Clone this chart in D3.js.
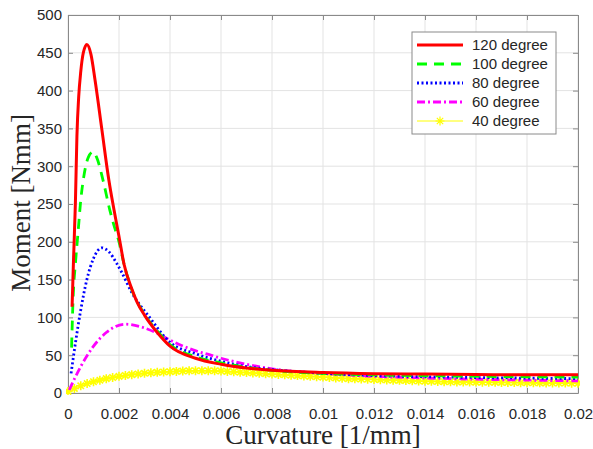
<!DOCTYPE html>
<html>
<head>
<meta charset="utf-8">
<script src="https://cdn.jsdelivr.net/npm/d3@7"></script>
<style>
  body { margin: 0; background: #fff; }
  svg { display: block; }
  .tick text { font-family: "Liberation Sans", Arial, sans-serif; font-size: 15px; fill: #262626; }
</style>
</head>
<body>
<div id="chart"></div>
<script>
// values
const seriesNames = ["120 degree", "100 degree", "80 degree", "60 degree", "40 degree"];

const red120X = [0.00016, 0.00022, 0.00029, 0.00035, 0.00042, 0.0005, 0.0006, 0.00074, 0.0009, 0.00106, 0.00133, 0.0016, 0.0018, 0.002, 0.0022, 0.0025, 0.0027, 0.003, 0.0035, 0.004, 0.005, 0.006, 0.007, 0.008, 0.01, 0.012, 0.014, 0.016, 0.018, 0.02];
const red120Y = [114, 180, 251, 340, 392, 425, 450, 461, 448, 414, 348, 282, 243, 207, 170, 138, 121, 103, 80, 62, 46, 38, 33, 30, 27, 25.5, 25, 24.5, 24, 24];

const green100X = [0.00014, 0.0002, 0.0003, 0.0004, 0.0005, 0.0006, 0.0008, 0.00098, 0.00112, 0.00137, 0.00164, 0.0018, 0.002, 0.0022, 0.0025, 0.003, 0.0035, 0.004, 0.005, 0.006, 0.007, 0.008, 0.01, 0.012, 0.015, 0.02];
const green100Y = [60, 125, 175, 215, 255, 282, 312, 319, 312, 282, 242, 222, 200, 170, 137, 104, 82, 64, 48, 40, 34, 30, 26, 24, 22.5, 21];

const blue80X = [0.00012, 0.0002, 0.0003, 0.00048, 0.00074, 0.001, 0.00133, 0.0016, 0.0019, 0.0021, 0.0025, 0.0032, 0.004, 0.005, 0.006, 0.007, 0.008, 0.01, 0.012, 0.015, 0.02];
const blue80Y = [26, 45, 68, 106, 150, 178, 192, 187, 172, 160, 133, 100, 67, 52, 42, 35, 31, 26, 23, 21, 19];

const mag60X = [0.00005, 0.0002, 0.0005, 0.00098, 0.0015, 0.00224, 0.003, 0.0035, 0.004, 0.0049, 0.0056, 0.006, 0.007, 0.008, 0.01, 0.012, 0.015, 0.02];
const mag60Y = [4, 15, 35, 61, 80, 91, 86, 79, 70, 57, 50, 46, 38, 32, 26, 22, 19, 16];

// 40 degree curve, one value every 0.00025 1/mm from 0 to 0.02
const yellowStep = 0.00025;
const yellow40Y = [2, 6, 9.5, 12.5, 15, 17, 19, 20.5, 22, 23.2, 24.3, 25.2, 26, 26.7, 27.3, 27.8, 28.2, 28.6, 29, 29.3,
  29.5, 29.5, 29.5, 29.3, 29, 28.5, 28, 27.5, 27, 26.5, 26, 25.5, 25, 24.5, 24, 23.5, 23, 22.5, 22, 21.5,
  21, 20.5, 20, 19.5, 19, 18.8, 18.5, 18.2, 18, 17.6, 17.3, 17, 16.7, 16.4, 16.1, 15.8, 15.6, 15.4, 15.2, 15,
  14.8, 14.7, 14.6, 14.5, 14.4, 14.3, 14.2, 14.1, 14, 13.9, 13.8, 13.7, 13.6, 13.5, 13.4, 13.3, 13.2, 13.1, 13.1, 13, 13];

const xTicks = [0, 0.002, 0.004, 0.006, 0.008, 0.01, 0.012, 0.014, 0.016, 0.018, 0.02];
const xTickLabels = ["0", "0.002", "0.004", "0.006", "0.008", "0.01", "0.012", "0.014", "0.016", "0.018", "0.02"];
const yTicks = [0, 50, 100, 150, 200, 250, 300, 350, 400, 450, 500];

var W = 593, H = 449,
    margin = {top: 15, right: 15, bottom: 56, left: 68},
    width = W - margin.left - margin.right,
    height = H - margin.top - margin.bottom;

var svg = d3.select("#chart").append("svg")
    .attr("width", W)
    .attr("height", H);

var g = svg.append("g").attr("transform", "translate(" + margin.left + "," + margin.top + ")");

var x = d3.scaleLinear().domain([0, 0.02]).range([0, width]),
    y = d3.scaleLinear().domain([0, 500]).range([height, 0]);

// grid
g.append("g").selectAll("line").data(xTicks).enter().append("line")
    .attr("x1", d => x(d)).attr("x2", d => x(d))
    .attr("y1", 0).attr("y2", height)
    .style("stroke", "#e3e3e3").style("stroke-width", 1);
g.append("g").selectAll("line").data(yTicks).enter().append("line")
    .attr("y1", d => y(d)).attr("y2", d => y(d))
    .attr("x1", 0).attr("x2", width)
    .style("stroke", "#e3e3e3").style("stroke-width", 1);

// axes, ticks pointing inward like matlab
g.append("g")
    .attr("transform", "translate(0," + height + ")")
    .call(d3.axisBottom(x).tickValues(xTicks).tickFormat((d, i) => xTickLabels[i]).tickSizeInner(-5).tickSizeOuter(0).tickPadding(15));
g.append("g")
    .call(d3.axisLeft(y).tickValues(yTicks).tickSizeInner(-5).tickSizeOuter(0).tickPadding(6));
g.append("g")
    .call(d3.axisTop(x).tickValues(xTicks).tickFormat("").tickSizeInner(-5).tickSizeOuter(0));
g.append("g")
    .attr("transform", "translate(" + width + ",0)")
    .call(d3.axisRight(y).tickValues(yTicks).tickFormat("").tickSizeInner(-5).tickSizeOuter(0));
g.selectAll(".domain").style("stroke", "#8a8a8a");
g.selectAll(".tick line").style("stroke", "#8a8a8a");

// curves
g.append("clipPath").attr("id", "plotclip")
  .append("rect").attr("x", -2).attr("y", -2).attr("width", width + 4).attr("height", height + 4);

var smooth = d3.line()
    .curve(d3.curveMonotoneX)
    .x(d => x(d[0]))
    .y(d => y(d[1]));

function pairs(xs, ys) { return xs.map((v, i) => [v, ys[i]]); }

var yellowPts = yellow40Y.map((v, i) => [i * yellowStep, v]);

var plot = g.append("g").attr("clip-path", "url(#plotclip)");

// 40 degree: thin line with asterisk markers
var star = "M-4.5,0L4.5,0M0,-4.5L0,4.5M-3.2,-3.2L3.2,3.2M-3.2,3.2L3.2,-3.2";
plot.append("path")
    .attr("d", d3.line().x(d => x(d[0])).y(d => y(d[1]))(yellowPts))
    .style("fill", "none").style("stroke", "#ffff00").style("stroke-width", 1);
plot.append("g").selectAll("path").data(yellowPts).enter().append("path")
    .attr("transform", d => "translate(" + x(d[0]) + "," + y(d[1]) + ")")
    .attr("d", star)
    .style("fill", "none").style("stroke", "#ffff00").style("stroke-width", 1.6);

plot.append("path")
    .attr("d", smooth(pairs(mag60X, mag60Y)))
    .style("fill", "none").style("stroke", "#ff00ff").style("stroke-width", 2.8)
    .style("stroke-dasharray", "8,3,2,3");

plot.append("path")
    .attr("d", smooth(pairs(blue80X, blue80Y)))
    .style("fill", "none").style("stroke", "#0000ff").style("stroke-width", 2.8)
    .style("stroke-dasharray", "2,2.5");

plot.append("path")
    .attr("d", smooth(pairs(green100X, green100Y)))
    .style("fill", "none").style("stroke", "#00ff00").style("stroke-width", 2.8)
    .style("stroke-dasharray", "10,7");

plot.append("path")
    .attr("d", smooth(pairs(red120X, red120Y)))
    .style("fill", "none").style("stroke", "#ff0000").style("stroke-width", 3);

// axis titles
svg.append("text")
    .attr("x", margin.left + width / 2)
    .attr("y", 444)
    .attr("text-anchor", "middle")
    .style("font-family", "'Liberation Serif', 'Times New Roman', serif")
    .style("font-size", "27px")
    .style("fill", "#262626")
    .text("Curvature [1/mm]");

svg.append("text")
    .attr("transform", "translate(30,203) rotate(-90)")
    .attr("text-anchor", "middle")
    .style("font-family", "'Liberation Serif', 'Times New Roman', serif")
    .style("font-size", "27px")
    .style("fill", "#262626")
    .text("Moment [Nmm]");

// legend
var legendStyles = [
  {color: "#ff0000", dash: null, w: 3},
  {color: "#00ff00", dash: "10,7", w: 2.8},
  {color: "#0000ff", dash: "2,2.5", w: 2.8},
  {color: "#ff00ff", dash: "8,3,2,3", w: 2.8},
  {color: "#ffff00", dash: null, w: 1}
];
var legend = svg.append("g").attr("transform", "translate(412,32)");
legend.append("rect")
    .attr("width", 144).attr("height", 102)
    .style("fill", "#fff").style("stroke", "#8a8a8a").style("stroke-width", 1);
var item = legend.selectAll(".item").data(seriesNames).enter().append("g")
    .attr("class", "item")
    .attr("transform", (d, i) => "translate(0," + (13 + i * 19) + ")");
item.append("line")
    .attr("x1", 5).attr("x2", 51)
    .style("stroke", (d, i) => legendStyles[i].color)
    .style("stroke-width", (d, i) => legendStyles[i].w)
    .style("stroke-dasharray", (d, i) => legendStyles[i].dash);
item.filter((d, i) => i === 4).append("path")
    .attr("transform", "translate(28,0)")
    .attr("d", star)
    .style("fill", "none").style("stroke", "#ffff00").style("stroke-width", 1.2);
item.append("text")
    .attr("x", 60)
    .attr("dy", "0.35em")
    .style("font-family", "'Liberation Sans', Arial, sans-serif")
    .style("font-size", "15px")
    .style("fill", "#262626")
    .text(d => d);
</script>
</body>
</html>
